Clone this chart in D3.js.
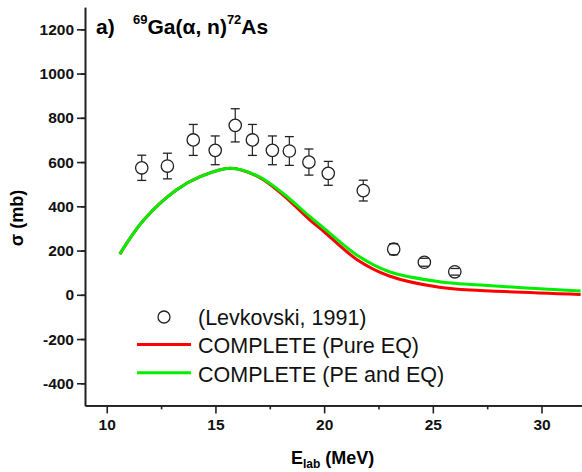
<!DOCTYPE html>
<html>
<head>
<meta charset="utf-8">
<script src="https://cdn.jsdelivr.net/npm/d3@7"></script>
<style>
  body { margin: 0; background: #fff; }
  svg { display: block; font-family: "Liberation Sans", Arial, sans-serif; }
  .axis path, .axis line { stroke: #222; stroke-width: 1.6; }
  .axis text { font-size: 15.5px; font-weight: bold; fill: #111; font-family: "Liberation Sans", Arial, sans-serif; }
</style>
</head>
<body>
<svg width="582" height="472"></svg>
<script>
// measured points (Levkovski, 1991)
var energy = [11.61, 12.79, 13.98, 14.99, 15.91, 16.70, 17.62, 18.40, 19.30, 20.19, 21.80, 23.20, 24.61, 26.01];
var sigma = [574, 582, 700, 653, 766, 700, 653, 650, 600, 549, 471, 206, 147, 104];
var sigmaErr = [57, 58, 70, 65, 75, 70, 65, 65, 59, 54, 47, 25, 18, 15];

// COMPLETE calculations
var calcEnergy = [10.6, 11.7, 13.2, 14.3, 15.7, 17.0, 18.1, 19.35, 20.0, 21.5, 23.0, 25.3, 27.2, 31.8];
var pureEq = [184, 338, 474, 534, 572, 532, 452, 338, 285, 160, 85, 34, 19, 1];
var peEq = [184, 338, 474, 534, 572, 534, 459, 353, 300, 180, 104, 59, 44, 17];

var xTicks = [10, 15, 20, 25, 30];
var yTicks = [-400, -200, 0, 200, 400, 600, 800, 1000, 1200];
var legendLabels = ["(Levkovski, 1991)", "COMPLETE (Pure EQ)", "COMPLETE (PE and EQ)"];

var svg = d3.select("svg");

var x = d3.scaleLinear().domain([9, 32]).range([85, 585]);
var y = d3.scaleLinear().domain([-500, 1300]).range([405.4, 7.2]);
var plain = function(d) { return String(d); };

// minor ticks
svg.append("g")
    .attr("class", "axis")
    .attr("transform", "translate(0,405.4)")
    .call(d3.axisBottom(x).tickValues(d3.range(12.5, 32, 5)).tickSize(4).tickSizeOuter(0).tickFormat(""));
svg.append("g")
    .attr("class", "axis")
    .attr("transform", "translate(85,0)")
    .call(d3.axisLeft(y).tickValues(d3.range(-500, 1300, 200).map(function(v) { return v + 100; })).tickSize(4).tickSizeOuter(0).tickFormat(""));

// major ticks
svg.append("g")
    .attr("class", "axis")
    .attr("transform", "translate(0,405.4)")
    .call(d3.axisBottom(x).tickValues(xTicks).tickSize(8).tickPadding(6).tickSizeOuter(0).tickFormat(plain));
svg.append("g")
    .attr("class", "axis")
    .attr("transform", "translate(85,0)")
    .call(d3.axisLeft(y).tickValues(yTicks).tickSize(8).tickPadding(3).tickSizeOuter(0).tickFormat(plain));

// curves
var line = d3.line().curve(d3.curveCatmullRom.alpha(0.5));
function pts(vals) {
  return calcEnergy.map(function(e, i) { return [x(e), y(vals[i])]; });
}
svg.append("path")
    .attr("d", line(pts(pureEq)))
    .attr("fill", "none")
    .attr("stroke", "#ff0000")
    .attr("stroke-width", 3);
svg.append("path")
    .attr("d", line(pts(peEq)))
    .attr("fill", "none")
    .attr("stroke", "#00ee00")
    .attr("stroke-width", 3);

// data points
var pts2 = energy.map(function(e, i) { return {e: e, s: sigma[i], err: sigmaErr[i]}; });
var g = svg.append("g");
g.selectAll(".stem").data(pts2).enter().append("line")
    .attr("x1", function(d) { return x(d.e); })
    .attr("x2", function(d) { return x(d.e); })
    .attr("y1", function(d) { return y(d.s + d.err); })
    .attr("y2", function(d) { return y(d.s - d.err); })
    .attr("stroke", "#222").attr("stroke-width", 1.2);
g.selectAll("circle").data(pts2).enter().append("circle")
    .attr("cx", function(d) { return x(d.e); })
    .attr("cy", function(d) { return y(d.s); })
    .attr("r", 6.2)
    .attr("fill", "#fff")
    .attr("stroke", "#222")
    .attr("stroke-width", 1.3);
[1, -1].forEach(function(sgn) {
  g.selectAll(".cap" + sgn).data(pts2).enter().append("line")
      .attr("x1", function(d) { return x(d.e) - 4.5; })
      .attr("x2", function(d) { return x(d.e) + 4.5; })
      .attr("y1", function(d) { return y(d.s + sgn * d.err); })
      .attr("y2", function(d) { return y(d.s + sgn * d.err); })
      .attr("stroke", "#222").attr("stroke-width", 1.3);
});

// legend
var leg = svg.append("g").style("font-size", "21.5px").attr("fill", "#111");
leg.append("circle").attr("cx", 164).attr("cy", 317).attr("r", 6)
    .attr("fill", "#fff").attr("stroke", "#222").attr("stroke-width", 1.3);
leg.append("line").attr("x1", 137).attr("x2", 191).attr("y1", 344.5).attr("y2", 344.5)
    .attr("stroke", "#ff0000").attr("stroke-width", 3);
leg.append("line").attr("x1", 137).attr("x2", 191).attr("y1", 372.7).attr("y2", 372.7)
    .attr("stroke", "#00ee00").attr("stroke-width", 3);
leg.selectAll("text").data(legendLabels).enter().append("text")
    .attr("x", 198)
    .attr("y", function(d, i) { return 325 + i * 28.3; })
    .text(function(d) { return d; });

// title
svg.append("text").attr("x", 96).attr("y", 34)
    .style("font-size", "21px").style("font-weight", "bold").text("a)");
var title = svg.append("text").attr("x", 133).attr("y", 34)
    .style("font-size", "21px").style("font-weight", "bold");
title.append("tspan").attr("dy", -10).style("font-size", "13px").text("69");
title.append("tspan").attr("dy", 10).text("Ga(α, n)");
title.append("tspan").attr("dy", -10).style("font-size", "13px").text("72");
title.append("tspan").attr("dy", 10).text("As");

// axis titles
svg.append("text")
    .attr("transform", "translate(23,218) rotate(-90)")
    .attr("text-anchor", "middle")
    .style("font-size", "18px").style("font-weight", "bold")
    .text("σ (mb)");
var xl = svg.append("text").attr("x", 291).attr("y", 464)
    .style("font-size", "18px").style("font-weight", "bold");
xl.append("tspan").text("E");
xl.append("tspan").attr("dy", 4).style("font-size", "12px").text("lab");
xl.append("tspan").attr("dy", -4).text(" (MeV)");
</script>
</body>
</html>
